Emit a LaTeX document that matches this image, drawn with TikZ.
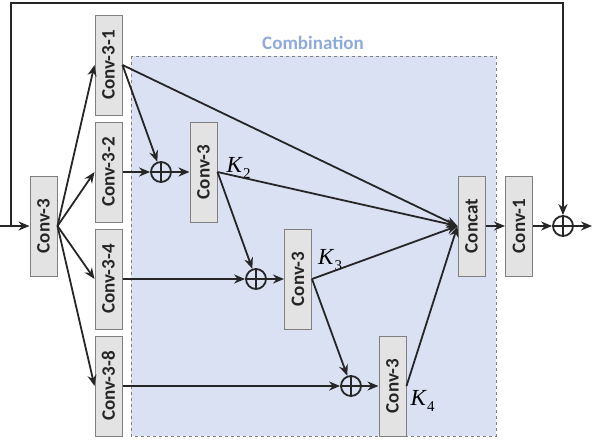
\documentclass[tikz,border=0pt]{standalone}
\usepackage{fontspec}
\setmainfont{Liberation Serif}
\newfontfamily\boxfont{Carlito}
\usetikzlibrary{arrows.meta, positioning, calc, backgrounds}
\definecolor{boxGray}{HTML}{E3E3E3}
\definecolor{edgeGray}{HTML}{808080}
\definecolor{lineDark}{HTML}{262626}
\definecolor{combBlue}{HTML}{DAE1F3}
\definecolor{titleBlue}{HTML}{8EAADB}
\newcommand{\KLabel}[1]{\textit{K}\raisebox{-0.6ex}{\fontsize{15}{15}\selectfont #1}}
\newcommand{\ConvText}[1]{\rotatebox{90}{#1}}

\begin{document}
\begin{tikzpicture}[x=1pt, y=-1pt,
    convbox/.style={draw=edgeGray, fill=boxGray, line width=1pt, minimum width=27pt, minimum height=100pt, inner sep=0pt, text=lineDark, font=\boxfont\bfseries\fontsize{19}{19}\selectfont},
    addop/.style={circle, draw=lineDark, line width=1.8pt, minimum size=20pt, inner sep=0pt,
        path picture={\draw[line width=1.8pt] (path picture bounding box.north) -- (path picture bounding box.south) (path picture bounding box.west) -- (path picture bounding box.east);}},
    flow/.style={draw=lineDark, line width=1.8pt, -{Stealth[length=11pt, width=9pt]}},
    klabel/.style={anchor=base west, inner sep=0pt, font=\fontsize{23}{23}\selectfont}
]
    \useasboundingbox (0,0) rectangle (592,440);

    % Combination area
    \draw[fill=combBlue, draw=edgeGray, dashed, line width=0.8pt] (131,56) rectangle (496,436);
    \node[font=\boxfont\bfseries\fontsize{19}{19}\selectfont, text=titleBlue] (combtitle) at (313,43) {Combination};

    % First conv and the four branches
    \node[convbox] (conv0) at (43.5,226) {\ConvText{Conv-3}};
    \foreach \d/\y in {1/65, 2/172, 4/279, 8/386} {
        \node[convbox] (c\d) at (108.5,\y) {\ConvText{Conv-3-\d}};
        \draw[flow] (conv0.east) -- (c\d.west);
    }

    % Adds and the chained convs
    \node[addop] (add1) at (161,172) {};
    \node[convbox] (k2) at (203.5,172) {\ConvText{Conv-3}};
    \node[addop] (add2) at (256,279) {};
    \node[convbox] (k3) at (298,279) {\ConvText{Conv-3}};
    \node[addop] (add3) at (351,386) {};
    \node[convbox] (k4) at (392.5,386) {\ConvText{Conv-3}};

    \node[klabel] (k2lab) at ($(k2.east)+(9,0)$) {\KLabel{2}};
    \node[klabel] (k3lab) at ($(k3.east)+(6,-15)$) {\KLabel{3}};
    \node[klabel] (k4lab) at ($(k4.east)+(4,19)$) {\KLabel{4}};

    % Output part
    \node[convbox] (concat) at (471.5,226) {\ConvText{Concat}};
    \node[convbox] (conv1) at (519,226) {\ConvText{Conv-1}};
    \node[addop] (addout) at (563,226) {};

    \coordinate (in) at (0,226);
    \coordinate (split) at (11,226);
    \coordinate (top) at (563,3);
    \coordinate (out) at (592,226);

    % Connections
    \draw[flow] (in) -- (conv0);
    \draw[flow] (split) |- (top) -- (addout);

    \draw[flow] (c1.east) -- (add1);
    \draw[flow] (c2) -- (add1);
    \draw[flow] (add1) -- (k2);
    \draw[flow] (k2.east) -- (add2);
    \draw[flow] (c4) -- (add2);
    \draw[flow] (add2) -- (k3);
    \draw[flow] (k3.east) -- (add3);
    \draw[flow] (c8) -- (add3);
    \draw[flow] (add3) -- (k4);

    \foreach \s in {c1, k2, k3, k4}
        \draw[flow] (\s.east) -- (concat.west);

    \draw[flow] (concat) -- (conv1);
    \draw[flow] (conv1) -- (addout);
    \draw[flow] (addout) -- (out);
\end{tikzpicture}
\end{document}
